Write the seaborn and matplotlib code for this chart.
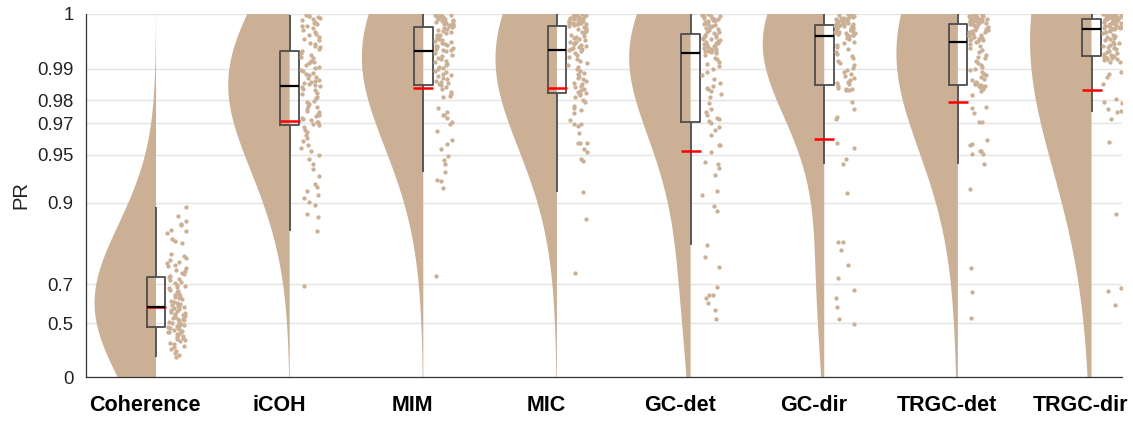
import numpy as np
import pandas as pd
import matplotlib
matplotlib.use("Agg")
import matplotlib.pyplot as plt
import seaborn as sns

categories = ["Coherence", "iCOH", "MIM", "MIC", "GC-det", "GC-dir", "TRGC-det", "TRGC-dir"]

coherence = [0.893, 0.879, 0.871, 0.866, 0.864, 0.855, 0.852, 0.848, 0.836, 0.831, 0.827, 0.799, 0.792, 0.787, 0.781,
             0.776, 0.772, 0.768, 0.763, 0.757, 0.752, 0.749, 0.741, 0.736, 0.731,
             0.725, 0.719, 0.716, 0.709, 0.705, 0.697, 0.694, 0.688, 0.684, 0.677, 0.671, 0.668, 0.660, 0.656, 0.651,
             0.643, 0.639, 0.633, 0.628, 0.622, 0.617, 0.612, 0.608, 0.603, 0.599,
             0.596, 0.591, 0.585, 0.580, 0.574, 0.569, 0.563, 0.558, 0.553, 0.549, 0.543, 0.538, 0.534, 0.529, 0.525,
             0.519, 0.514, 0.510, 0.504, 0.500, 0.496, 0.491, 0.485, 0.480, 0.476,
             0.471, 0.466, 0.460, 0.453, 0.448, 0.442, 0.437, 0.431, 0.425, 0.417, 0.411, 0.402, 0.396, 0.389, 0.381,
             0.369, 0.358, 0.344, 0.331, 0.317, 0.302, 0.284, 0.263, 0.244, 0.224]

icoh = [0.9999, 0.9998, 0.9998, 0.9996, 0.9995, 0.9993, 0.9992, 0.9989, 0.9988, 0.9986, 0.9984, 0.9983, 0.9980,
        0.9977, 0.9975, 0.9971, 0.9969, 0.9966, 0.9962, 0.9960, 0.9956, 0.9953, 0.9950, 0.9947, 0.9943,
        0.9939, 0.9935, 0.9932, 0.9928, 0.9924, 0.9919, 0.9916, 0.9913, 0.9908, 0.9904, 0.9902, 0.9897, 0.9893,
        0.9888, 0.9885, 0.9882, 0.9876, 0.9873, 0.9870, 0.9866, 0.9862, 0.9860, 0.9856, 0.9853, 0.9851,
        0.9848, 0.9841, 0.9836, 0.9828, 0.9823, 0.9814, 0.9809, 0.9799, 0.9793, 0.9786, 0.9777, 0.9772, 0.9764,
        0.9758, 0.9753, 0.9745, 0.9741, 0.9732, 0.9727, 0.9719, 0.9715, 0.9707, 0.9703, 0.9695, 0.9690,
        0.9681, 0.9665, 0.9651, 0.9633, 0.9618, 0.9596, 0.9574, 0.9551, 0.9532, 0.9498, 0.9466, 0.9423, 0.9381,
        0.9318, 0.9231, 0.9196, 0.9152, 0.9101, 0.9068, 0.9012, 0.8973, 0.8832, 0.8771, 0.8512, 0.6905]

mim = [1.0000, 0.9999, 0.9999, 0.9998, 0.9998, 0.9997, 0.9996, 0.9996, 0.9995, 0.9994, 0.9993, 0.9993, 0.9992,
       0.9991, 0.9990, 0.9989, 0.9989, 0.9988, 0.9987, 0.9986, 0.9986, 0.9985, 0.9984, 0.9984, 0.9983,
       0.9982, 0.9980, 0.9979, 0.9977, 0.9976, 0.9974, 0.9972, 0.9970, 0.9969, 0.9967, 0.9965, 0.9963, 0.9961,
       0.9959, 0.9958, 0.9956, 0.9954, 0.9952, 0.9950, 0.9949, 0.9947, 0.9946, 0.9944, 0.9942, 0.9941,
       0.9939, 0.9936, 0.9932, 0.9929, 0.9926, 0.9922, 0.9919, 0.9916, 0.9912, 0.9909, 0.9905, 0.9901, 0.9898,
       0.9894, 0.9890, 0.9886, 0.9882, 0.9879, 0.9875, 0.9871, 0.9867, 0.9864, 0.9861, 0.9857, 0.9854,
       0.9847, 0.9841, 0.9830, 0.9825, 0.9818, 0.9814, 0.9768, 0.9754, 0.9741, 0.9739, 0.9726, 0.9707, 0.9697,
       0.9659, 0.9606, 0.9580, 0.9542, 0.9494, 0.9463, 0.9429, 0.9357, 0.9272, 0.9265, 0.9187, 0.7304]

mic = [1.0000, 1.0000, 0.9999, 0.9999, 0.9998, 0.9997, 0.9997, 0.9996, 0.9995, 0.9995, 0.9994, 0.9993, 0.9992,
       0.9992, 0.9991, 0.9990, 0.9990, 0.9989, 0.9988, 0.9988, 0.9987, 0.9987, 0.9986, 0.9986, 0.9985,
       0.9984, 0.9982, 0.9981, 0.9979, 0.9977, 0.9976, 0.9974, 0.9972, 0.9970, 0.9968, 0.9966, 0.9964, 0.9962,
       0.9960, 0.9958, 0.9957, 0.9955, 0.9953, 0.9951, 0.9949, 0.9948, 0.9946, 0.9944, 0.9943, 0.9942,
       0.9940, 0.9936, 0.9931, 0.9927, 0.9922, 0.9918, 0.9913, 0.9909, 0.9904, 0.9899, 0.9894, 0.9889, 0.9885,
       0.9880, 0.9875, 0.9871, 0.9866, 0.9861, 0.9856, 0.9851, 0.9846, 0.9841, 0.9836, 0.9831, 0.9826,
       0.9828, 0.9823, 0.9820, 0.9814, 0.9803, 0.9795, 0.9778, 0.9771, 0.9761, 0.9747, 0.9716, 0.9695, 0.9695,
       0.9685, 0.9648, 0.9587, 0.9583, 0.9583, 0.9542, 0.9524, 0.9468, 0.9454, 0.9135, 0.8746, 0.7409]

gc_det = [1.0000, 0.9999, 0.9999, 0.9998, 0.9997, 0.9996, 0.9995, 0.9995, 0.9994, 0.9993, 0.9992, 0.9991, 0.9990,
          0.9989, 0.9987, 0.9986, 0.9985, 0.9983, 0.9982, 0.9980, 0.9979, 0.9977, 0.9975, 0.9974, 0.9972,
          0.9970, 0.9969, 0.9968, 0.9966, 0.9965, 0.9963, 0.9962, 0.9960, 0.9959, 0.9958, 0.9956, 0.9955, 0.9953,
          0.9952, 0.9950, 0.9949, 0.9947, 0.9946, 0.9944, 0.9943, 0.9941, 0.9940, 0.9939, 0.9938, 0.9937,
          0.9935, 0.9931, 0.9926, 0.9922, 0.9917, 0.9912, 0.9906, 0.9899, 0.9891, 0.9883, 0.9872, 0.9860, 0.9851,
          0.9845, 0.9840, 0.9834, 0.9822, 0.9813, 0.9790, 0.9766, 0.9754, 0.9740, 0.9727, 0.9719, 0.9709,
          0.9701, 0.9682, 0.9661, 0.9635, 0.9571, 0.9568, 0.9521, 0.9440, 0.9428, 0.9390, 0.9330, 0.9150, 0.9100,
          0.8950, 0.8880, 0.8207, 0.7896, 0.7607, 0.6872, 0.6552, 0.6549, 0.6401, 0.6143, 0.5775, 0.5288]

gc_dir = [1.0000, 1.0000, 0.9999, 0.9999, 0.9998, 0.9998, 0.9997, 0.9997, 0.9996, 0.9995, 0.9995, 0.9994, 0.9993,
          0.9993, 0.9992, 0.9991, 0.9991, 0.9990, 0.9990, 0.9989, 0.9988, 0.9988, 0.9987, 0.9987, 0.9986,
          0.9985, 0.9984, 0.9984, 0.9983, 0.9982, 0.9982, 0.9981, 0.9980, 0.9979, 0.9979, 0.9978, 0.9977, 0.9977,
          0.9976, 0.9975, 0.9974, 0.9974, 0.9973, 0.9972, 0.9972, 0.9971, 0.9971, 0.9970, 0.9970, 0.9969,
          0.9968, 0.9965, 0.9962, 0.9958, 0.9955, 0.9951, 0.9947, 0.9943, 0.9938, 0.9934, 0.9930, 0.9924, 0.9919,
          0.9913, 0.9908, 0.9902, 0.9896, 0.9891, 0.9885, 0.9880, 0.9874, 0.9869, 0.9864, 0.9860, 0.9856,
          0.9850, 0.9845, 0.9842, 0.9840, 0.9838, 0.9836, 0.9793, 0.9765, 0.9728, 0.9720, 0.9583, 0.9553, 0.9466,
          0.9429, 0.9122, 0.8284, 0.8281, 0.8098, 0.7670, 0.7221, 0.6772, 0.6415, 0.5936, 0.5251, 0.4971]

trgc_det = [1.0000, 1.0000, 0.9999, 0.9999, 0.9998, 0.9998, 0.9997, 0.9997, 0.9996, 0.9995, 0.9995, 0.9994, 0.9994,
            0.9993, 0.9993, 0.9992, 0.9991, 0.9991, 0.9990, 0.9990, 0.9989, 0.9989, 0.9988, 0.9988, 0.9987,
            0.9986, 0.9985, 0.9984, 0.9983, 0.9982, 0.9980, 0.9979, 0.9978, 0.9977, 0.9976, 0.9975, 0.9974, 0.9972,
            0.9971, 0.9970, 0.9969, 0.9968, 0.9966, 0.9965, 0.9964, 0.9963, 0.9962, 0.9961, 0.9960, 0.9959,
            0.9957, 0.9953, 0.9949, 0.9945, 0.9941, 0.9937, 0.9932, 0.9928, 0.9924, 0.9919, 0.9914, 0.9909, 0.9905,
            0.9900, 0.9896, 0.9891, 0.9886, 0.9882, 0.9877, 0.9872, 0.9868, 0.9864, 0.9861, 0.9858, 0.9855,
            0.9853, 0.9851, 0.9850, 0.9848, 0.9846, 0.9840, 0.9835, 0.9820, 0.9775, 0.9768, 0.9749, 0.9705, 0.9703,
            0.9606, 0.9580, 0.9573, 0.9532, 0.9526, 0.9505, 0.9505, 0.9427, 0.9175, 0.7575, 0.6674, 0.5330]

trgc_dir = [1.0000, 1.0000, 1.0000, 0.9999, 0.9999, 0.9999, 0.9998, 0.9998, 0.9998, 0.9997, 0.9997, 0.9997, 0.9996,
            0.9996, 0.9996, 0.9996, 0.9995, 0.9995, 0.9995, 0.9995, 0.9994, 0.9994, 0.9994, 0.9994, 0.9994,
            0.9993, 0.9992, 0.9992, 0.9991, 0.9991, 0.9990, 0.9989, 0.9989, 0.9988, 0.9988, 0.9987, 0.9986, 0.9986,
            0.9985, 0.9985, 0.9984, 0.9983, 0.9983, 0.9982, 0.9982, 0.9981, 0.9981, 0.9980, 0.9980, 0.9979,
            0.9978, 0.9976, 0.9974, 0.9972, 0.9970, 0.9968, 0.9966, 0.9964, 0.9962, 0.9960, 0.9958, 0.9956, 0.9953,
            0.9951, 0.9949, 0.9947, 0.9945, 0.9943, 0.9940, 0.9938, 0.9936, 0.9934, 0.9932, 0.9930, 0.9929,
            0.9927, 0.9926, 0.9925, 0.9924, 0.9923, 0.9922, 0.9921, 0.9917, 0.9917, 0.9892, 0.9886, 0.9876, 0.9857,
            0.9807, 0.9793, 0.9788, 0.9764, 0.9757, 0.9753, 0.9719, 0.9593, 0.8824, 0.6832, 0.6716, 0.6041]

ytick_values = [0, 0.5, 0.7, 0.9, 0.95, 0.97, 0.98, 0.99, 1]
ytick_labels = ["0", "0.5", "0.7", "0.9", "0.95", "0.97", "0.98", "0.99", "1"]

series = [coherence, icoh, mim, mic, gc_det, gc_dir, trgc_det, trgc_dir]


def to_t(v):
    return -np.log10(1.01 - np.asarray(v, dtype=float))


def to_pr(t):
    return 1.01 - 10.0 ** (-np.asarray(t, dtype=float))


def pr_mean_in_t(t):
    return float(to_t(np.mean(to_pr(t))))


VIOLIN_W = 0.46
KDE_BANDWIDTH = [0.38, 0.36, 0.44, 0.44, 0.40, 0.38, 0.50, 0.70]  # in transformed units

rows = []
for i, vals in enumerate(series):
    for v in vals:
        rows.append((i, categories[i], v))
df = pd.DataFrame(rows, columns=["pos", "method", "pr"])
df["t"] = to_t(df["pr"])
df["pos_pts"] = df["pos"] + 0.155
df["pos_violin"] = df["pos"] - VIOLIN_W / 2

sns.set_theme(style="white")
plt.rcParams["font.family"] = ["Liberation Sans", "DejaVu Sans"]

TAN = "#CCB096"
BOX = "#4d4d4d"

fig = plt.figure(figsize=(11.33, 4.23), dpi=100)
ax = fig.add_axes([86 / 1133, 1 - 377 / 423, (1122 - 86) / 1133, (377 - 14) / 423])

for i in range(len(categories)):
    sub = df[df["pos"] == i]
    factor = KDE_BANDWIDTH[i] / sub["t"].std(ddof=1)
    sns.violinplot(data=sub, x="pos_violin", y="t", native_scale=True, orient="x", split=True,
                   inner=None, cut=3, bw_method=factor, bw_adjust=1, density_norm="width",
                   width=VIOLIN_W, color=TAN, saturation=1, linewidth=0, ax=ax)

np.random.seed(4)
sns.stripplot(data=df, x="pos_pts", y="t", native_scale=True, orient="x", jitter=0.072,
              color=TAN, size=3.1, linewidth=0, ax=ax, zorder=3)

sns.boxplot(data=df, x="pos", y="t", native_scale=True, orient="x", width=0.14, fill=False,
            color=BOX, linewidth=1.3, showcaps=False, showfliers=False, whis=1.5,
            medianprops=dict(color="black", linewidth=1.6), ax=ax)

sns.pointplot(data=df, x="pos", y="t", native_scale=True, orient="x", estimator=pr_mean_in_t,
              errorbar=None, color="red", markers="_", linestyle="none",
              markersize=14, markeredgewidth=1.8, ax=ax)

ax.set_xlim(-0.524, 7.228)
ax.set_ylim(float(to_t(0)), float(to_t(1)))
ax.set_yticks(to_t(ytick_values), ytick_labels)
ax.set_xticks(np.arange(len(categories)) - 0.08, categories)
ax.grid(axis="y", color="#e4e4e4", linewidth=1)
ax.grid(axis="x", visible=False)
ax.set_axisbelow(True)
for s in ["top", "right"]:
    ax.spines[s].set_visible(False)
for s in ["left", "bottom"]:
    ax.spines[s].set_color("#333333")
    ax.spines[s].set_linewidth(0.9)
ax.tick_params(axis="y", direction="in", length=3.5, width=0.9, color="#333333",
               labelsize=13.4, labelcolor="#222222", pad=9)
ax.tick_params(axis="x", length=0, labelsize=15.5, labelcolor="black", pad=13)
for lab in ax.get_xticklabels():
    lab.set_fontweight("bold")
ax.set_xlabel("")
ax.set_ylabel("PR", fontsize=14.5, color="#222222", labelpad=4.5)

fig.savefig("out.png", dpi=100)
